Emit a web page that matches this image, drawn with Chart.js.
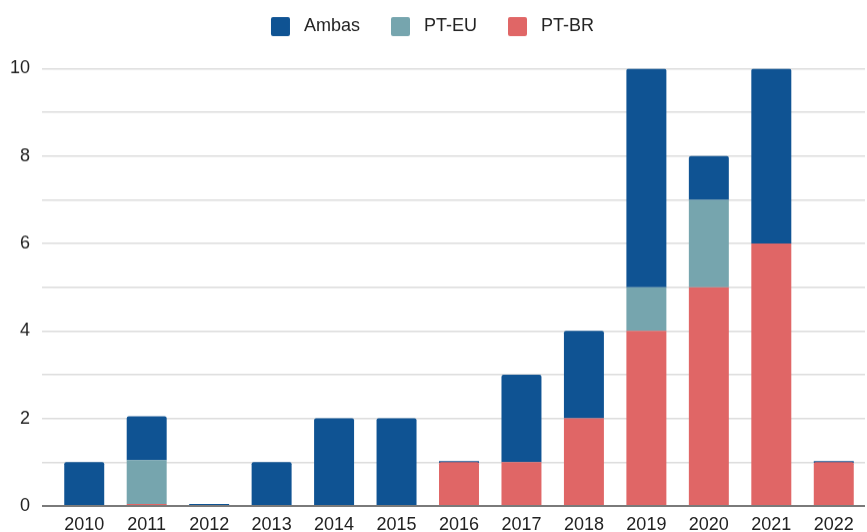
<!DOCTYPE html>
<html>
<head>
<meta charset="utf-8">
<script src="https://cdn.jsdelivr.net/npm/chart.js@4/dist/chart.umd.min.js"></script>
<style>
  html, body { margin: 0; padding: 0; background: #fff; overflow: hidden; }
  #wrap { width: 867px; height: 534.5px; }
</style>
</head>
<body>
<div id="wrap"><canvas id="langChart"></canvas></div>
<script>
/***** DATA *****/
var years  = ['2010', '2011', '2012', '2013', '2014', '2015', '2016', '2017', '2018', '2019', '2020', '2021', '2022'];
// null = no entry, 0 = entry with zero (drawn as a thin line)
var ptBR   = [null, 0,    null, null, null, null, 1,    1,    2,    4,    5,    6,    1];
var ptEU   = [null, 1,    null, null, null, null, null, null, null, 1,    2,    null, null];
var ambas  = [1,    1,    0,    1,    2,    2,    0,    2,    2,    5,    1,    4,    0];
var yTicks = [0, 2, 4, 6, 8, 10];

var colors = {
    ambas: '#0f5393',
    ptEU:  '#76a5ae',
    ptBR:  '#e06666'
};

/***** LEGEND SPACING *****/
var legendGap = {
    id: 'legendGap',
    beforeInit: function (chart) {
        var fit = chart.legend.fit;
        chart.legend.fit = function () {
            fit.bind(chart.legend)();
            this.height += 22.5;
        };
    }
};

var data = {
    labels: years,
    datasets: [
        { label: 'PT-BR', data: ptBR,  backgroundColor: colors.ptBR },
        { label: 'PT-EU', data: ptEU,  backgroundColor: colors.ptEU },
        { label: 'Ambas', data: ambas, backgroundColor: colors.ambas }
    ]
};

var options = {
    responsive: true,
    maintainAspectRatio: false,
    animation: false,
    layout: { padding: { top: -14, right: 2, left: 0, bottom: 0 } },
    datasets: {
        bar: {
            categoryPercentage: 1,
            barPercentage: 0.64,
            minBarLength: 2,
            borderRadius: 2,
            borderSkipped: 'start'
        }
    },
    plugins: {
        legend: {
            reverse: true,
            position: 'top',
            labels: {
                color: '#222',
                font: { family: "'Liberation Sans', Arial, sans-serif", size: 18 },
                boxWidth: 19,
                boxHeight: 19,
                padding: 31,
                generateLabels: function (chart) {
                    var items = Chart.defaults.plugins.legend.labels.generateLabels(chart);
                    items.forEach(function (item) {
                        item.text = ' ' + item.text;
                        item.lineWidth = 0;
                        item.borderRadius = 2;
                    });
                    return items;
                }
            }
        },
        tooltip: { enabled: false }
    },
    scales: {
        x: {
            stacked: true,
            grid: { display: false },
            border: { display: false },
            ticks: {
                color: '#222',
                padding: 0,
                font: { family: "'Liberation Sans', Arial, sans-serif", size: 18 }
            }
        },
        y: {
            stacked: true,
            min: 0,
            max: 10,
            afterFit: function (scale) { scale.width = 53; },
            border: { display: false },
            grid: {
                color: function (ctx) { return ctx.tick && ctx.tick.value === 0 ? '#7a7a7a' : '#dcdcdc'; },
                lineWidth: function (ctx) { return ctx.tick && ctx.tick.value === 0 ? 2 : 1.5; },
                tickLength: 11,
                drawTicks: true
            },
            ticks: {
                stepSize: 1,
                padding: 12,
                color: '#222',
                font: { family: "'Liberation Sans', Arial, sans-serif", size: 18 },
                callback: function (value) {
                    return yTicks.indexOf(value) >= 0 ? value : '';
                }
            }
        }
    }
};

var ctx = document.getElementById('langChart').getContext('2d');
var langChart = new Chart(ctx, {
    type: 'bar',
    data: data,
    options: options,
    plugins: [legendGap]
});
</script>
</body>
</html>
